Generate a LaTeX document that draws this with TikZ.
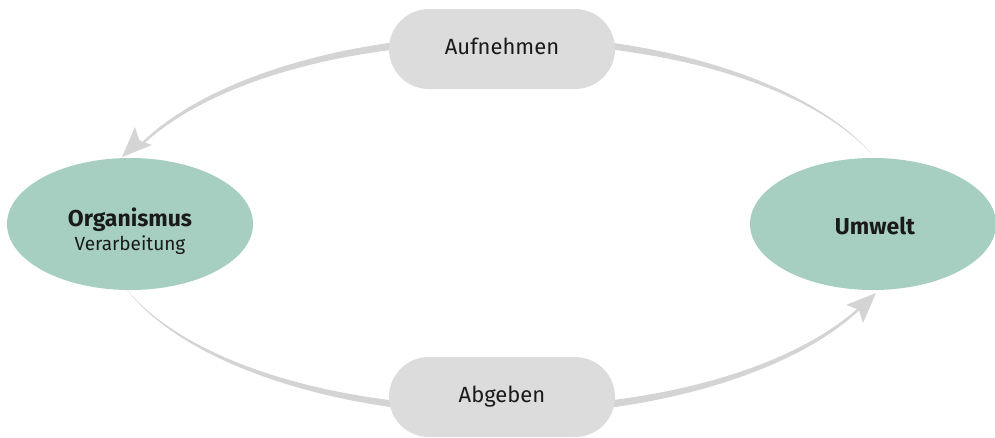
\documentclass[tikz,border=0pt]{standalone}
\usepackage{fontspec}
\setmainfont{Fira Sans}
\usetikzlibrary{shapes.geometric}
\definecolor{envgreen}{HTML}{A6CFC1}
\definecolor{pillgray}{HTML}{DCDCDC}
\definecolor{arrowgray}{HTML}{D4D4D4}
\definecolor{txt}{HTML}{1A1A1A}
\tikzset{
  blob/.style={ellipse, fill=envgreen, draw=none, minimum width=246pt, minimum height=132pt, inner sep=0pt},
  pill/.style={rectangle, rounded corners=40pt, fill=pillgray, draw=none, minimum width=226pt, minimum height=80pt, inner sep=0pt},
  lbl/.style={anchor=base, inner sep=0pt, text=txt, font=\fontsize{22}{26}\selectfont},
  boldlbl/.style={lbl, font=\fontsize{23}{27}\selectfont\bfseries},
  sublbl/.style={lbl, font=\fontsize{19}{23}\selectfont},
  flow/.style={fill=arrowgray, draw=none}
}
\begin{document}
\begin{tikzpicture}[x=1pt,y=-1pt]
\useasboundingbox (0,0) rectangle (995,437);
% tapered arcs
\fill[flow] plot[domain=90:154,samples=60] ({502+(400+(4.5-3.25*(\x-90)/64))*cos(\x)},{225-(186+(4.5-3.25*(\x-90)/64))*sin(\x)})
  -- plot[domain=154:90,samples=60] ({502+(400-(4.5-3.25*(\x-90)/64))*cos(\x)},{225-(186-(4.5-3.25*(\x-90)/64))*sin(\x)}) -- cycle;
\fill[flow] plot[domain=90:22,samples=60] ({502+(400+(4.5*(\x-22)/68))*cos(\x)},{225-(186+(4.5*(\x-22)/68))*sin(\x)})
  -- plot[domain=22:90,samples=60] ({502+(400-(4.5*(\x-22)/68))*cos(\x)},{225-(186-(4.5*(\x-22)/68))*sin(\x)}) -- cycle;
\fill[flow] plot[domain=199:270,samples=60] ({502+(400+(4.5*(\x-199)/71))*cos(\x)},{225-(186+(4.5*(\x-199)/71))*sin(\x)})
  -- plot[domain=270:199,samples=60] ({502+(400-(4.5*(\x-199)/71))*cos(\x)},{225-(186-(4.5*(\x-199)/71))*sin(\x)}) -- cycle;
\fill[flow] plot[domain=270:334,samples=60] ({502+(400+(4.5-3.25*(\x-270)/64))*cos(\x)},{225-(186+(4.5-3.25*(\x-270)/64))*sin(\x)})
  -- plot[domain=334:270,samples=60] ({502+(400-(4.5-3.25*(\x-270)/64))*cos(\x)},{225-(186-(4.5-3.25*(\x-270)/64))*sin(\x)}) -- cycle;
% arrowheads
\fill[flow] (122,157) -- (152,145) -- (139.2,140.2) -- (135,127) -- cycle;
\fill[flow] (876,293) -- (846,305) -- (858.8,309.8) -- (863,323) -- cycle;
% shapes
\node[pill] (auf) at (502,49) {};
\node[pill] (ab) at (502,397) {};
\node[blob] (org) at (130,224) {};
\node[blob] (umw) at (873,224) {};
% texts
\node[lbl] (auft) at (502,54) {Aufnehmen};
\node[lbl] (abt) at (502,402) {Abgeben};
\node[boldlbl] (orgt) at (130,226) {Organismus};
\node[sublbl] (orgs) at (130,250) {Verarbeitung};
\node[boldlbl] (umwt) at (875,234) {Umwelt};
\end{tikzpicture}
\end{document}
